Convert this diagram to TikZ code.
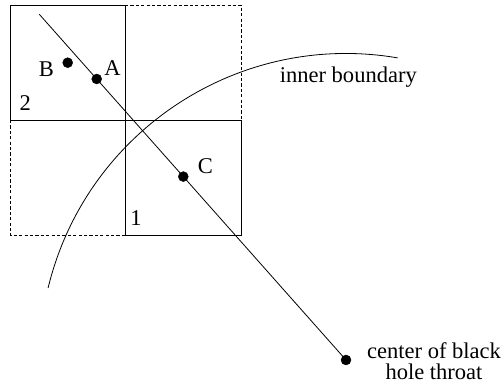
\documentclass[tikz,border=0pt]{standalone}
\usepackage{fontspec}
\setmainfont{Liberation Serif}
\begin{document}
\begin{tikzpicture}[
	x=0.5bp, y=0.5bp,
	font=\fontsize{11.3}{10.9}\selectfont,
	vertex/.style={ circle, draw, very thin, fill, inner sep=0pt, minimum size=5bp },
	cellline/.style={ thin },
	celldash/.style={ thin, dash pattern=on 1.6bp off 1.1bp },
	tag/.style={ inner sep=0pt, anchor=base }
]
\useasboundingbox (0,0) rectangle (504,384);

% cells
\draw[cellline] (10,264) rectangle (125,379);
\draw[cellline] (125,149) rectangle (241,264);
\draw[celldash] (125,379) -- (241,379) -- (241,264);
\draw[celldash] (10,264) -- (10,149) -- (125,149);

% points
\coordinate (top) at (39.3,369.7);
\node[vertex] at (346,24) (hole) {};
\node[vertex] at (96.7,305) (pA) {};
\node[vertex] at (67.7,321.3) (pB) {};
\node[vertex] at (183.3,207.4) (pC) {};
\draw (top) to (hole);

% inner boundary
\draw (hole.center) ++(166.4:306.5) arc[start angle=166.4, end angle=80.3, radius=306.5];

% labels
\node[tag] at (46.3,307.3) (lB) {B};
\node[tag] at (112.5,308.3) (lA) {A};
\node[tag] at (205.5,210.7) (lC) {C};
\node[tag] at (25.3,273.3) (l2) {2};
\node[tag] at (136,158) (l1) {1};
\node[tag] at (348.3,301.3) (lbound) {inner boundary};
\node[tag] at (434,25.7) (lhole1) {center of black};
\node[tag] at (434,4) (lhole2) {hole throat};

\end{tikzpicture}
\end{document}
